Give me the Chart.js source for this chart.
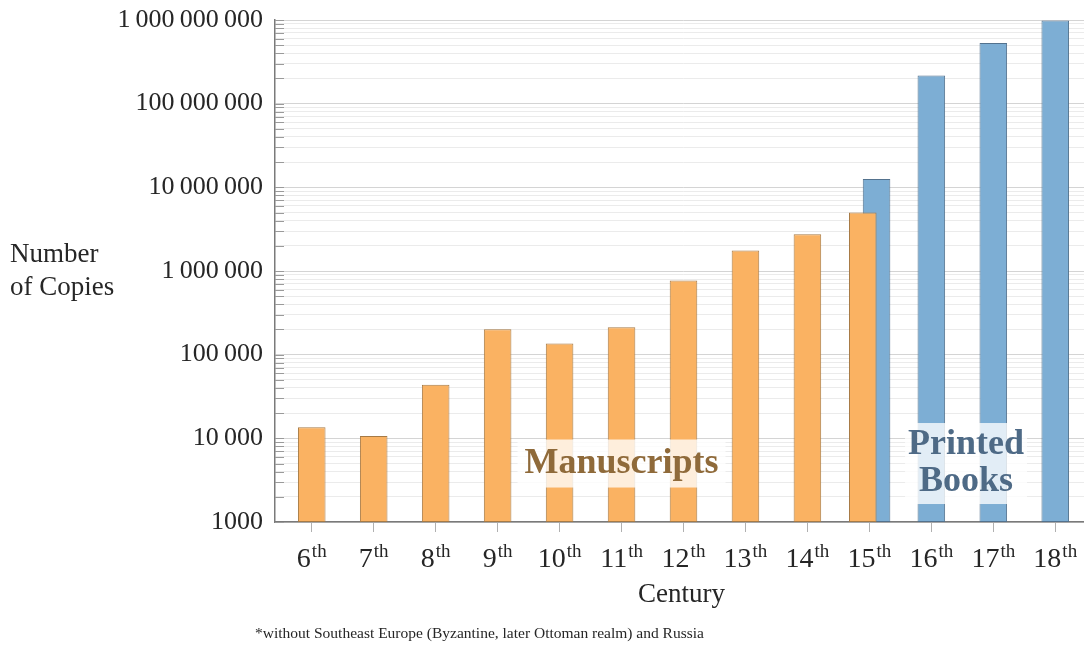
<!DOCTYPE html>
<html>
<head>
<meta charset="utf-8">
<title>Book production in Western Europe</title>
<script src="https://cdn.jsdelivr.net/npm/chart.js"></script>
<style>
  html, body { margin: 0; padding: 0; background: #fff; overflow: hidden; }
  #wrap { width: 1092px; height: 646px; position: relative; }
</style>
</head>
<body>
<div id="wrap"><canvas id="copies"></canvas></div>
<script>
// centuries on the x axis, ordinal suffix drawn raised
const centuries = [6, 7, 8, 9, 10, 11, 12, 13, 14, 15, 16, 17, 18];
const ordinal = 'th';

// copies produced per century
const manuscripts = [13552, 10639, 43702, 201742, 135637, 212030, 768721, 1761951, 2746951, 4999161, null, null, null];
const printedBooks = [null, null, null, null, null, null, null, null, null, 12589000, 217444000, 531941000, 983874000];

// labelled decades of the log axis
const yTickValues = [1e3, 1e4, 1e5, 1e6, 1e7, 1e8, 1e9];
const yTickLabels = ['1000', '10\u2009000', '100\u2009000', '1\u2009000\u2009000', '10\u2009000\u2009000', '100\u2009000\u2009000', '1\u2009000\u2009000\u2009000'];

const serif = '"Liberation Serif", "DejaVu Serif", serif';
const ink = '#262626';

const paper = {
  id: 'paper',
  afterDatasetsUpdate(chart) {
    // where both series share a century the bars overlap, shifted apart
    const a = chart.getDatasetMeta(0), b = chart.getDatasetMeta(1);
    centuries.forEach((c, i) => {
      if (manuscripts[i] != null && printedBooks[i] != null) {
        const w = a.data[i].width;
        a.data[i].x -= w * 0.24;
        b.data[i].x += w * 0.26;
      }
    });
  },
  afterDatasetsDraw(chart) {
    const ctx = chart.ctx, xs = chart.scales.x, ys = chart.scales.y;
    const tag = (lines, cx, cy, color, boxW, boxH) => {
      const x = xs.getPixelForValue(cx), y = ys.getPixelForValue(cy);
      ctx.save();
      ctx.fillStyle = 'rgba(255,255,255,0.78)';
      ctx.fillRect(x - boxW / 2, y - boxH / 2, boxW, boxH);
      ctx.font = 'bold 36px ' + serif;
      ctx.fillStyle = color;
      ctx.textAlign = 'center';
      ctx.textBaseline = 'alphabetic';
      const step = 37;
      const first = y + 9 - (lines.length - 1) * step / 2;
      lines.forEach((t, k) => ctx.fillText(t, x, first + k * step));
      ctx.restore();
    };
    tag(['Manuscripts'], 11, 5000, '#8f6a3a', 208, 48);
    tag(['Printed', 'Books'], 16.56, 5000, '#4e6a86', 122, 81);
  },
  afterDraw(chart) {
    const ctx = chart.ctx, xs = chart.scales.x, ys = chart.scales.y;
    const area = chart.chartArea;
    ctx.save();
    // short inner tick marks on the y axis
    ctx.strokeStyle = '#9a9a9a';
    ctx.lineWidth = 1;
    ys.ticks.forEach(t => {
      const y = Math.round(ys.getPixelForValue(t.value)) + 0.5;
      ctx.beginPath();
      ctx.moveTo(area.left, y);
      ctx.lineTo(area.left + 9, y);
      ctx.stroke();
    });

    // century labels with raised suffix
    ctx.fillStyle = ink;
    ctx.textAlign = 'left';
    ctx.textBaseline = 'alphabetic';
    centuries.forEach(c => {
      const x = xs.getPixelForValue(c);
      ctx.font = '28px ' + serif;
      const wn = ctx.measureText(String(c)).width;
      ctx.font = '19px ' + serif;
      const ws = ctx.measureText(ordinal).width;
      const x0 = x - (wn + ws + 1) / 2;
      ctx.font = '28px ' + serif;
      ctx.fillText(String(c), x0, area.bottom + 45);
      ctx.font = '19px ' + serif;
      ctx.fillText(ordinal, x0 + wn + 1, area.bottom + 35);
    });

    // axis titles
    ctx.font = '27px ' + serif;
    ctx.textAlign = 'center';
    ctx.fillText('Century', (area.left + area.right) / 2 - 2, area.bottom + 80);
    ctx.textAlign = 'left';
    ctx.fillText('Number', 10, 262);
    ctx.fillText('of Copies', 10, 295);

    // footnote
    ctx.font = '15.5px ' + serif;
    ctx.textAlign = 'left';
    ctx.fillText('*without Southeast Europe (Byzantine, later Ottoman realm) and Russia', 255, 638);
    ctx.restore();
  }
};

const ctx = document.getElementById('copies').getContext('2d');
new Chart(ctx, {
  type: 'bar',
  data: {
    labels: centuries,
    datasets: [{
      label: 'Manuscripts',
      data: manuscripts,
      backgroundColor: '#fab262',
      borderColor: '#a67a45',
      borderWidth: 1,
      borderSkipped: false
    }, {
      label: 'Printed Books',
      data: printedBooks,
      backgroundColor: '#7daed4',
      borderColor: '#53728e',
      borderWidth: 1,
      borderSkipped: false
    }]
  },
  plugins: [paper],
  options: {
    responsive: true,
    maintainAspectRatio: false,
    animation: false,
    events: [],
    layout: { padding: { top: 20, left: 0, right: 0, bottom: 0 } },
    datasets: {
      bar: { grouped: false, categoryPercentage: 1, barPercentage: 0.445 }
    },
    plugins: { legend: { display: false }, tooltip: { enabled: false } },
    scales: {
      x: {
        type: 'linear',
        offset: false,
        min: centuries[0] - 0.593,
        max: centuries[centuries.length - 1] + 0.593,
        afterBuildTicks: s => { s.ticks = centuries.map(v => ({ value: v })); },
        afterFit: s => { s.height = 124; s.paddingLeft = 0; s.paddingRight = 0; },
        ticks: { display: false },
        grid: { offset: false, drawOnChartArea: false, drawTicks: true, tickLength: 10, color: '#b0b0b0', lineWidth: 1 },
        border: { display: true, color: '#7a7a7a', width: 1.5 }
      },
      y: {
        type: 'logarithmic',
        min: 1e3,
        max: 1e9,
        afterBuildTicks: s => {
          // decades plus 2..9 minor lines in between
          const t = [];
          yTickValues.forEach((d, i) => {
            t.push({ value: d, major: true });
            if (i < yTickValues.length - 1) {
              for (let k = 2; k <= 9; k++) t.push({ value: d * k, major: false });
            }
          });
          s.ticks = t;
        },
        afterFit: s => { s.width = 275; s.paddingTop = 0; s.paddingBottom = 0; },
        ticks: {
          autoSkip: false,
          padding: 12,
          color: ink,
          font: { family: serif, size: 26 },
          callback: v => {
            const i = yTickValues.indexOf(v);
            return i >= 0 ? yTickLabels[i] : '';
          }
        },
        grid: {
          drawTicks: false,
          color: c => (c.tick && yTickValues.indexOf(c.tick.value) >= 0) ? '#d4d4d4' : '#ebebeb',
          lineWidth: 1
        },
        border: { display: true, color: '#7a7a7a', width: 1.5 }
      }
    }
  }
});
</script>
</body>
</html>
